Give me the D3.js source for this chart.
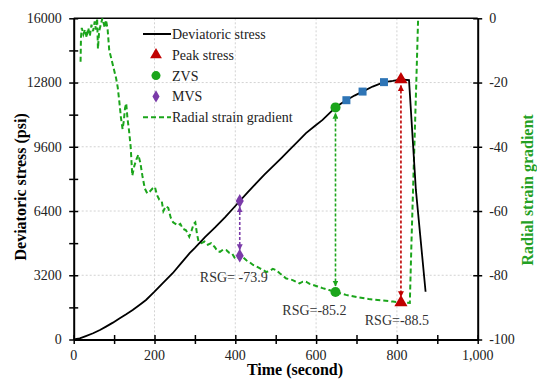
<!DOCTYPE html>
<html>
<head>
<meta charset="utf-8">
<script src="https://cdn.jsdelivr.net/npm/d3@7"></script>
<style>
  body { margin: 0; background: #fff; }
  svg text { font-family: 'Liberation Serif', 'DejaVu Serif', serif; }
</style>
</head>
<body>
<div id="chart"></div>
<script>
// deviatoric stress (psi) vs time (s)
const stressT = [0, 15, 30, 48, 65, 80, 97, 114, 130, 146, 162, 179, 200, 220, 245, 265, 287, 300, 325, 350, 375, 400, 411, 430, 452, 472, 493, 514, 534, 555, 575, 596, 616, 632, 648, 662, 675, 695, 715, 740, 768, 790, 810, 830, 847, 871];
const stressV = [0, 60, 170, 310, 470, 640, 840, 1060, 1260, 1470, 1710, 1970, 2380, 2800, 3300, 3780, 4300, 4560, 5100, 5580, 6100, 6650, 6900, 7320, 7790, 8210, 8620, 9040, 9450, 9870, 10280, 10620, 10940, 11250, 11560, 11750, 11920, 12150, 12350, 12600, 12820, 12880, 12950, 12920, 7450, 2380];

// radial strain gradient vs time (s)
const rsgT = [17, 18, 20, 24, 28, 32, 36, 40, 44, 48, 52, 55, 58, 60, 63, 67, 71, 74, 77, 80, 84, 88, 93, 99, 105, 109, 113, 117, 121, 124, 127, 130, 133, 137, 141, 145, 150, 155, 160, 165, 170, 176, 182, 188, 195, 201, 206, 212, 218, 222, 228, 234, 240, 246, 252, 258, 264, 270, 278, 286, 292, 297, 301, 305, 309, 316, 324, 332, 340, 349, 356, 362, 370, 378, 385, 392, 398, 404, 411, 420, 428, 436, 444, 452, 460, 468, 477, 485, 493, 501, 510, 518, 526, 534, 542, 550, 559, 567, 575, 584, 592, 604, 616, 632, 648, 674, 700, 730, 760, 790, 810, 832, 836, 842, 848, 853];
const rsgV = [-13.5, -6, -3, -5, -3.5, -6, -3, -5.5, -2, -4, -1, -3.5, 0, -9.5, -4, -2, 0, -1.5, -3, -0.5, -3.5, -10, -12.5, -15.6, -18.7, -21.5, -26, -31, -34.5, -32, -28, -26.5, -31, -35, -40, -49, -46, -44, -42.5, -45, -49, -53, -54.5, -54, -53, -52.5, -55, -56.5, -57, -60, -58.5, -59, -62, -63.5, -64, -64.5, -64, -65.5, -66, -68, -66, -64, -63.5, -67, -69.5, -70, -69.5, -70.5, -70, -71.2, -72.5, -72.7, -72, -72.2, -73, -73.2, -74.5, -75, -73.9, -74.5, -75.4, -76, -76.8, -77.2, -77.8, -78.3, -79, -78.6, -78, -78.4, -79.4, -80.2, -81, -81.2, -81.5, -82, -82.5, -82, -82, -82.7, -83, -83.5, -84, -84.6, -85.2, -86.1, -86.8, -87.4, -87.8, -88.2, -88.5, -88.6, -70, -45, -20, 2];

// key points
const keyNames = ['Peak stress', 'ZVS', 'MVS'];
const keyT = [810, 648, 411];
const keyStress = [12950, 11560, 6900];
const keyRsg = [-88.5, -85.2, -73.9];
const keyLabels = ['RSG=-88.5', 'RSG=-85.2', 'RSG= -73.9'];
const squareT = [675, 715, 768];
const squareStress = [11920, 12350, 12820];

const xTicks = [0, 200, 400, 600, 800, 1000];
const yTicks = [0, 3200, 6400, 9600, 12800, 16000];
const rTicks = [0, -20, -40, -60, -80, -100];

const W = 537, H = 381;
const m = { left: 73.7, right: 477.7, top: 18.3, bottom: 339.5 };
const green = '#1ba51b', red = '#c00000', purple = '#7a3aa8', blue = '#2e75b6';
const serif = "'Liberation Serif', 'DejaVu Serif', serif";

const svg = d3.select('#chart').append('svg').attr('width', W).attr('height', H)
  .attr('font-family', serif);

const x = d3.scaleLinear().domain([0, 1000]).range([m.left, m.right]);
const y = d3.scaleLinear().domain([0, 16000]).range([m.bottom, m.top]);
const yr = d3.scaleLinear().domain([-100, 0]).range([m.bottom, m.top]);

svg.append('defs').append('clipPath').attr('id', 'clip')
  .append('rect').attr('x', m.left).attr('y', m.top)
  .attr('width', m.right - m.left).attr('height', m.bottom - m.top);

// grid
const grid = svg.append('g').attr('stroke', '#c8c8c8').attr('stroke-width', 0.8).attr('stroke-dasharray', '2,2');
grid.selectAll('.gx').data(xTicks.slice(1, -1)).enter().append('line')
  .attr('x1', d => x(d)).attr('x2', d => x(d)).attr('y1', m.top).attr('y2', m.bottom);
grid.selectAll('.gy').data(yTicks.slice(1, -1)).enter().append('line')
  .attr('y1', d => y(d)).attr('y2', d => y(d)).attr('x1', m.left).attr('x2', m.right);

// axes
const axisG = svg.append('g');
axisG.append('line').attr('x1', m.left).attr('x2', m.right).attr('y1', m.top).attr('y2', m.top)
  .attr('stroke', '#000').attr('stroke-width', 1.5);

const bottomAxis = axisG.append('g').attr('transform', `translate(0,${m.bottom})`)
  .call(d3.axisBottom(x).tickValues(d3.range(0, 1001, 100)).tickSize(0).tickFormat(''));
const leftAxis = axisG.append('g').attr('transform', `translate(${m.left},0)`)
  .call(d3.axisLeft(y).tickValues(d3.range(0, 16001, 1600)).tickSize(0).tickFormat(''));
const rightAxis = axisG.append('g').attr('transform', `translate(${m.right},0)`)
  .call(d3.axisRight(yr).tickValues(rTicks).tickSize(0).tickFormat(''));
[bottomAxis, leftAxis, rightAxis].forEach(a => {
  a.attr('font-family', serif);
  a.select('.domain').attr('stroke', '#000').attr('stroke-width', 2);
});
bottomAxis.selectAll('.tick line').attr('y1', -4.5).attr('y2', 4.5).attr('stroke-width', 1.5);
leftAxis.selectAll('.tick line').attr('x1', -4.5).attr('x2', 4.5).attr('stroke-width', 1.5);
rightAxis.selectAll('.tick line').attr('x1', -4.5).attr('x2', 4.5).attr('stroke-width', 1.5);

// tick labels
const fmtX = d3.format(',');
svg.append('g').selectAll('text').data(xTicks).enter().append('text')
  .attr('x', d => x(d)).attr('y', m.bottom + 20).attr('text-anchor', 'middle')
  .attr('font-size', 14).attr('fill', '#222').text(d => fmtX(d));
svg.append('g').selectAll('text').data(yTicks).enter().append('text')
  .attr('x', m.left - 12).attr('y', d => y(d)).attr('dy', '0.35em').attr('text-anchor', 'end')
  .attr('font-size', 14).attr('fill', '#222').text(d => d);
svg.append('g').selectAll('text').data(rTicks).enter().append('text')
  .attr('x', m.right + 11.5).attr('y', d => yr(d)).attr('dy', '0.35em').attr('text-anchor', 'start')
  .attr('font-size', 14).attr('fill', '#222').text(d => d);

// axis titles
svg.append('text').attr('x', 295).attr('y', 375).attr('text-anchor', 'middle')
  .attr('font-size', 16).attr('font-weight', 'bold').text('Time (second)');
svg.append('text').attr('transform', `translate(26,${(m.top + m.bottom) / 2 + 8}) rotate(-90)`)
  .attr('text-anchor', 'middle').attr('font-size', 16).attr('font-weight', 'bold').text('Deviatoric stress (psi)');
svg.append('text').attr('transform', `translate(533,${(m.top + m.bottom) / 2 + 11}) rotate(-90)`)
  .attr('text-anchor', 'middle').attr('font-size', 16).attr('font-weight', 'bold').attr('fill', '#23a023')
  .text('Radial strain gradient');

// lines
const plot = svg.append('g').attr('clip-path', 'url(#clip)');
const stressLine = d3.line().x(i => x(stressT[i])).y(i => y(stressV[i]));
const rsgLine = d3.line().x(i => x(rsgT[i])).y(i => yr(rsgV[i]));

plot.append('path').attr('d', rsgLine(d3.range(rsgT.length)))
  .attr('fill', 'none').attr('stroke', green).attr('stroke-width', 2).attr('stroke-dasharray', '5,3');
plot.append('path').attr('d', stressLine(d3.range(stressT.length)))
  .attr('fill', 'none').attr('stroke', '#000').attr('stroke-width', 1.8);

// arrow markers
const defs = svg.select('defs');
[['red', red], ['green', green], ['purple', purple]].forEach(([id, c]) => {
  defs.append('marker').attr('id', 'arr-' + id).attr('viewBox', '0 0 10 10')
    .attr('refX', 9).attr('refY', 5).attr('markerWidth', 6).attr('markerHeight', 6)
    .attr('markerUnits', 'userSpaceOnUse').attr('orient', 'auto-start-reverse')
    .append('path').attr('d', 'M0,0 L10,5 L0,10 z').attr('fill', c);
});

const keyColors = [red, green, purple];
const keyIds = ['red', 'green', 'purple'];
const symTypes = [d3.symbolTriangle, d3.symbolCircle, d3.symbolDiamond];
const symSizes = [75, 80, 55];

keyT.forEach((t, i) => {
  plot.append('line')
    .attr('x1', x(t)).attr('x2', x(t))
    .attr('y1', y(keyStress[i]) + 6).attr('y2', yr(keyRsg[i]) - 6)
    .attr('stroke', keyColors[i]).attr('stroke-width', 1.6).attr('stroke-dasharray', '3,2')
    .attr('marker-start', `url(#arr-${keyIds[i]})`).attr('marker-end', `url(#arr-${keyIds[i]})`);
});

keyT.forEach((t, i) => {
  [[x(t), y(keyStress[i])], [x(t), yr(keyRsg[i])]].forEach(([px, py]) => {
    svg.append('path').attr('d', d3.symbol(symTypes[i], symSizes[i])())
      .attr('transform', `translate(${px},${py})`).attr('fill', keyColors[i]);
  });
});

squareT.forEach((t, i) => {
  svg.append('path').attr('d', d3.symbol(d3.symbolSquare, 64)())
    .attr('transform', `translate(${x(t)},${y(squareStress[i])})`).attr('fill', blue);
});

// RSG labels
const labelOff = [[-4, 22], [-21, 23], [-6, 26]];
keyT.forEach((t, i) => {
  svg.append('text').attr('x', x(t) + labelOff[i][0]).attr('y', yr(keyRsg[i]) + labelOff[i][1])
    .attr('text-anchor', 'middle').attr('font-size', 14).attr('fill', '#333').text(keyLabels[i]);
});

// legend
const lg = svg.append('g').attr('transform', 'translate(143,34)');
const rowH = 20.8;
const items = ['Deviatoric stress', ...keyNames, 'Radial strain gradient'];
items.forEach((name, i) => {
  const gy = i * rowH;
  if (i === 0 || i === 4) {
    lg.append('line').attr('x1', 0).attr('x2', 28).attr('y1', gy).attr('y2', gy)
      .attr('stroke', i === 0 ? '#000' : green).attr('stroke-width', 2)
      .attr('stroke-dasharray', i === 0 ? null : '5,3');
  } else {
    lg.append('path').attr('d', d3.symbol(symTypes[i - 1], symSizes[i - 1] * 0.8)())
      .attr('transform', `translate(13,${gy})`).attr('fill', keyColors[i - 1]);
  }
  lg.append('text').attr('x', 29).attr('y', gy).attr('dy', '0.35em')
    .attr('font-size', 14).attr('fill', '#222').text(name);
});
</script>
</body>
</html>
